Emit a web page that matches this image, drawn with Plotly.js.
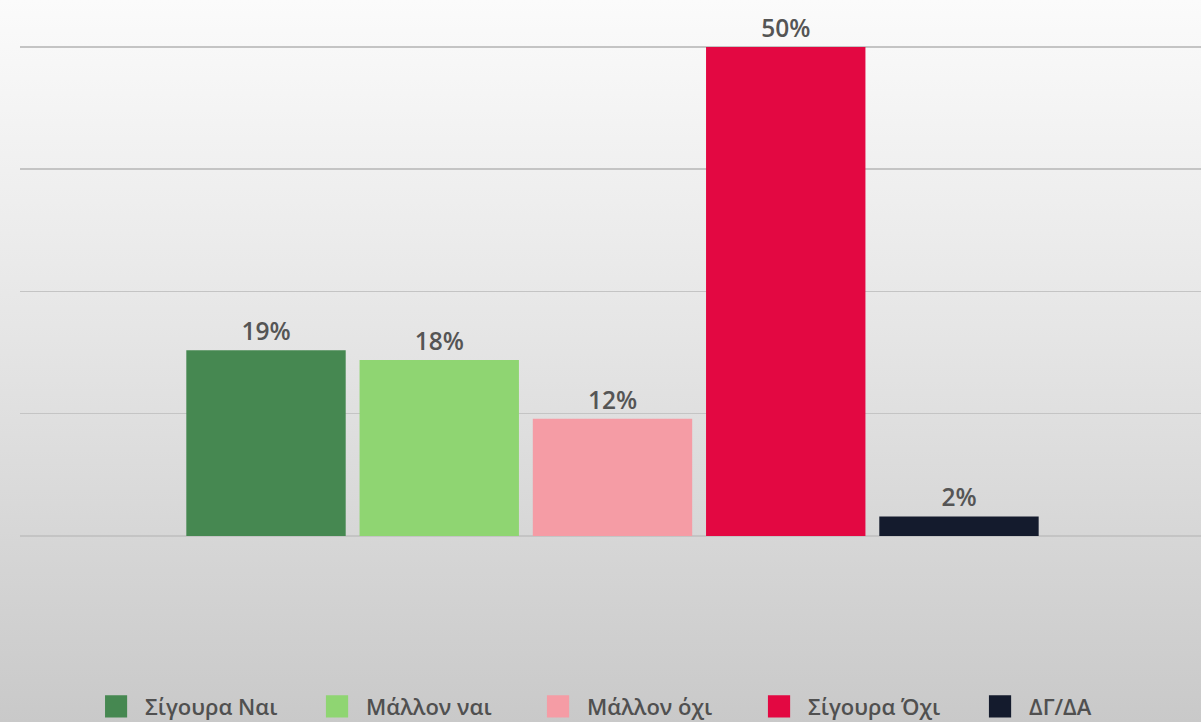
<!DOCTYPE html>
<html>
<head>
<meta charset="utf-8">
<script src="https://cdn.plot.ly/plotly-3.0.1.min.js"></script>
<style>
  html, body { margin: 0; padding: 0; }
  #chart {
    width: 1201px; height: 722px;
    background: linear-gradient(to bottom, #fbfbfb 0%, #e6e6e6 45%, #c9c9c9 100%);
  }
</style>
</head>
<body>
<div id="chart"></div>
<script>
const categories = ["Σίγουρα Ναι", "Μάλλον ναι", "Μάλλον όχι", "Σίγουρα Όχι", "ΔΓ/ΔΑ"];
const values = [19, 18, 12, 50, 2];
const colors = ["#468851", "#8fd572", "#f59ca5", "#e30842", "#141b2d"];

const traces = categories.map((name, i) => ({
  type: "bar",
  name: name,
  x: [name],
  y: [values[i]],
  width: 0.92,
  marker: { color: colors[i] },
  text: [values[i] + "%"],
  textposition: "outside",
  textfont: { family: "Open Sans, sans-serif", size: 24.5, color: "#555555", weight: 600 },
  cliponaxis: false,
  hoverinfo: "skip"
}));

const layout = {
  width: 1201,
  height: 722,
  paper_bgcolor: "rgba(0,0,0,0)",
  plot_bgcolor: "rgba(0,0,0,0)",
  margin: { l: 20, r: 0, t: 45, b: 186, autoexpand: false },
  barmode: "overlay",
  showlegend: true,
  legend: {
    orientation: "h",
    x: 0.072, xanchor: "left",
    y: -0.3045, yanchor: "top",
    font: { family: "Open Sans, sans-serif", size: 22, color: "#505050", weight: 600 },
    entrywidth: 176,
    traceorder: "normal"
  },
  xaxis: {
    type: "category",
    categoryorder: "array",
    categoryarray: categories,
    range: [-1.42, 5.397],
    showticklabels: false,
    showgrid: false,
    zeroline: false,
    showline: false,
    ticks: ""
  },
  yaxis: {
    range: [0, 50.2],
    dtick: 12.5,
    showticklabels: false,
    showgrid: true,
    gridcolor: "#c4c4c4",
    gridwidth: 1.5,
    zeroline: true,
    zerolinecolor: "#c4c4c4",
    zerolinewidth: 1.5,
    showline: false,
    ticks: ""
  }
};

Plotly.newPlot("chart", traces, layout, { displayModeBar: false, staticPlot: true }).then(() => {
  document.querySelectorAll("#chart .legendpoints").forEach(g => {
    const t = g.getAttribute("transform") || "";
    const bb = g.getBBox();
    const cx = bb.x + bb.width / 2;
    const cy = bb.y + bb.height / 2;
    g.setAttribute("transform",
      t + " translate(" + (cx - 9) + "," + cy + ") scale(1.85) translate(" + (-cx) + "," + (-cy) + ")");
  });
});
</script>
</body>
</html>
